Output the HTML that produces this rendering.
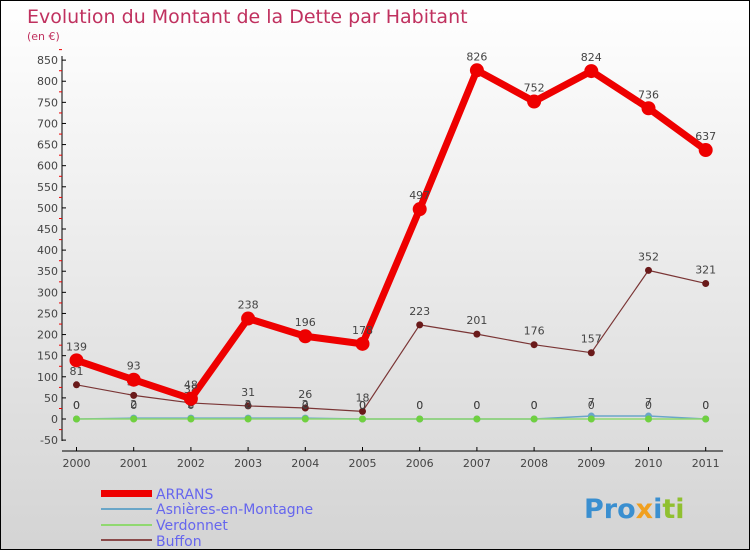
<!DOCTYPE html>
<html><head><meta charset="utf-8"><style>
body{margin:0}
#wrap{position:relative;width:748px;height:548px;border:1px solid #000;background:linear-gradient(#fff,#d4d4d4);font-family:"DejaVu Sans","Liberation Sans",sans-serif;overflow:hidden}
svg text{font-family:"DejaVu Sans","Liberation Sans",sans-serif}
</style></head><body>
<div id="wrap">
<svg id="c" width="748" height="548">
<text x="26" y="22" font-size="19" fill="#c0315f">Evolution du Montant de la Dette par Habitant</text>
<text x="26" y="39" font-size="11" fill="#c0315f">(en €)</text>
<text x="155" y="498" font-size="14" fill="#6666ee">ARRANS</text>
<text x="155" y="513" font-size="14" fill="#6666ee">Asnières-en-Montagne</text>
<text x="155" y="529" font-size="14" fill="#6666ee">Verdonnet</text>
<text x="155" y="545" font-size="14" fill="#6666ee">Buffon</text>
<rect x="100" y="489" width="51" height="7" fill="#e00"/>
<rect x="100" y="507" width="51" height="2" fill="#6aa6c8"/>
<rect x="100" y="523" width="51" height="2" fill="#90d870"/>
<rect x="100" y="538" width="51" height="2" fill="#8a4a4a"/>
<text x="583" y="517" font-size="27" font-weight="bold"><tspan fill="#3a8fd0">Pro</tspan><tspan fill="#f0a020">x</tspan><tspan fill="#3a8fd0">i</tspan><tspan fill="#90c030">ti</tspan></text>
</svg></div>
<script>
const years=["2000","2001","2002","2003","2004","2005","2006","2007","2008","2009","2010","2011"];
const arrans=[139,93,48,238,196,178,497,826,752,824,736,637];
const asnieres=[0,2,2,2,2,0,0,0,0,7,7,0];
const verdonnet=[0,0,0,0,0,0,0,0,0,0,0,0];
const buffon=[81,56,38,31,26,18,223,201,176,157,352,321];
const yTicks=[-50,0,50,100,150,200,250,300,350,400,450,500,550,600,650,700,750,800,850];
const svg=document.getElementById('c');const NS='http://www.w3.org/2000/svg';
const X=i=>75.5+i*57.2;const Y=v=>418-v*0.4222;
function el(t,a,p){const e=document.createElementNS(NS,t);for(const k in a)e.setAttribute(k,a[k]);(p||svg).appendChild(e);return e;}
let ax=el('line',{x1:61,y1:55,x2:61,y2:440,stroke:'#000'});


let xa=el('line',{x1:61,y1:450,x2:722,y2:450,stroke:'#000'});


yTicks.forEach(v=>{const y=Y(v);
el('line',{x1:61,y1:y,x2:65,y2:y,stroke:'#000'});
el('line',{x1:58,y1:y-10.5,x2:61,y2:y-10.5,stroke:'#e00'});
const t=el('text',{x:57,y:y+4,'font-size':11,'text-anchor':'end',fill:'#444'});t.textContent=v;

});
years.forEach((yr,i)=>{el('line',{x1:X(i),y1:446,x2:X(i),y2:450,stroke:'#000'});
const t=el('text',{x:X(i),y:466,'font-size':11,'text-anchor':'middle',fill:'#444'});t.textContent=yr;

});
function series(d,color,w,r,name,dot){
const p=el('polyline',{points:d.map((v,i)=>X(i)+','+Y(v)).join(' '),fill:'none',stroke:color,'stroke-width':w,'stroke-linejoin':'round'});


d.forEach((v,i)=>{const c=el('circle',{cx:X(i),cy:Y(v),r:r,fill:dot||color});


const t=el('text',{x:X(i),y:Y(v)-10,'font-size':11,'text-anchor':'middle',fill:'#444'});t.textContent=v;

});}
series(buffon,'#7a3535',1.2,3.5,'buffon','#6a1a1a');
series(asnieres,'#6aa6c8',1.5,3.5,'asnieres');
series(verdonnet,'#90d870',1.5,3.5,'verdonnet','#70d040');
series(arrans,'#e00',7,7,'arrans');
</script>
</body></html>
